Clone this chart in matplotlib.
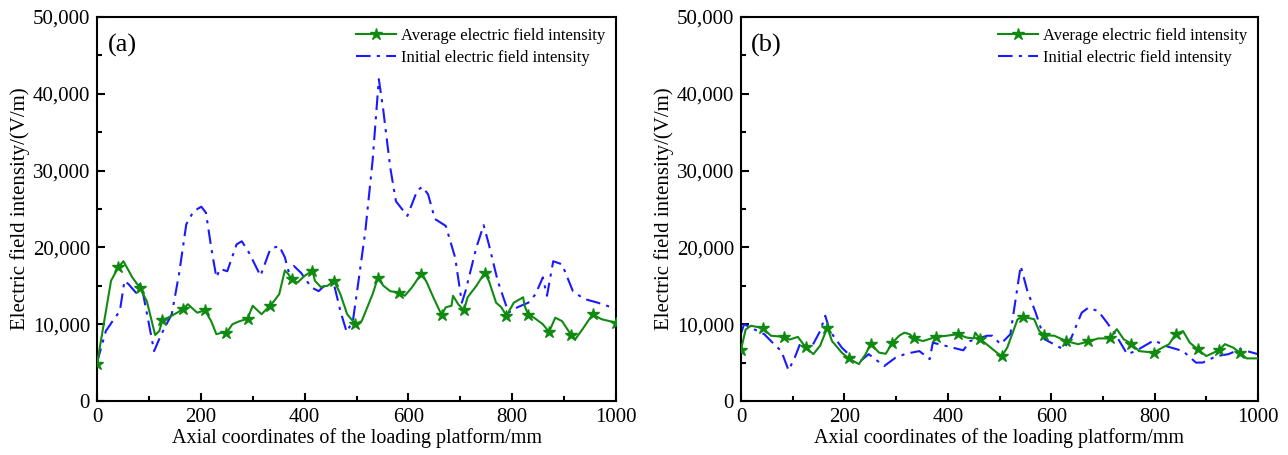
import numpy as np
import matplotlib
matplotlib.use("Agg")
import matplotlib.pyplot as plt
from matplotlib.ticker import MultipleLocator, FuncFormatter

plt.rcParams['font.family'] = ['Liberation Serif', 'DejaVu Serif']
plt.rcParams['mathtext.fontset'] = 'stix'

# donnees (a)
avg_a_x = [0, 27, 41, 51, 68, 83, 96, 112, 120, 126, 144, 166, 175, 193, 208, 220, 230, 241, 249, 261,
           275, 290, 300, 317, 333, 341, 351, 362, 369, 375, 386, 400, 415, 420, 431, 444, 457, 469, 482, 498,
           510, 531, 541, 552, 565, 582, 593, 607, 624, 634, 648, 664, 672, 683, 686, 696, 707, 714, 731, 747,
           755, 769, 779, 789, 803, 821, 824, 831, 842, 859, 871, 883, 896, 914, 921, 935, 955, 972, 1000]
avg_a_y = [4800, 15650, 17400, 18200, 16100, 14700, 13000, 8600, 9100, 10500, 11100, 11950, 12600, 11500, 11800, 10400, 8700, 8900, 8800, 10000,
           10400, 10700, 12400, 11300, 12400, 13000, 13900, 17000, 16500, 15850, 15400, 16300, 16950, 15650, 14850, 15000, 15650, 13900, 11300, 10000,
           10400, 13900, 16000, 15000, 14300, 14100, 13700, 14800, 16500, 15650, 13500, 11200, 12200, 12400, 13700, 12600, 11800, 13500, 15000, 16700,
           15650, 12800, 12200, 11100, 12800, 13500, 12400, 11200, 10850, 10000, 9000, 10850, 10400, 8550, 8000, 9300, 11300, 10650, 10200]
stars_a = [0, 41, 83, 126, 166, 208, 249, 290, 333, 375, 415, 457, 498, 541, 582, 624, 664, 707, 747, 789, 831, 871, 914, 955, 1000]

init_a_x = [0, 17, 30, 44, 53, 61, 75, 82, 89, 99, 110, 124, 144, 158, 172, 186, 201, 210, 220, 230,
            237, 251, 269, 279, 293, 315, 334, 351, 362, 369, 379, 393, 413, 427, 441, 455, 469, 481, 493, 503,
            517, 531, 543, 551, 565, 576, 598, 617, 627, 638, 651, 672, 690, 703, 710, 731, 745, 755, 772, 793,
            810, 831, 845, 859, 867, 879, 896, 917, 938, 965, 1000]
init_a_y = [5000, 9100, 10400, 11700, 15650, 15200, 14100, 15200, 13900, 10400, 6500, 8700, 11300, 16500, 23000, 24700, 25300, 24500, 20000, 16100,
            17200, 16900, 20400, 20800, 19300, 16300, 19800, 20200, 18700, 16900, 17600, 16700, 14800, 14300, 15200, 15650, 11700, 9000, 10400, 15200,
            22100, 31300, 41900, 38200, 30400, 26000, 24100, 27400, 27900, 26900, 23700, 22800, 18700, 12800, 14300, 20000, 22900, 20400, 15650, 11500,
            12200, 12800, 13900, 16100, 13700, 18200, 17800, 14300, 13300, 12800, 12000]

# donnees (b)
avg_b_x = [0, 9, 19, 42, 58, 83, 94, 110, 125, 140, 153, 167, 176, 195, 208, 228, 241, 251, 267, 280,
           293, 306, 316, 326, 335, 352, 377, 398, 419, 437, 450, 453, 463, 483, 504, 515, 535, 546, 567, 577,
           587, 606, 629, 652, 672, 691, 713, 727, 740, 755, 770, 798, 815, 828, 841, 855, 868, 883, 900, 924,
           936, 952, 965, 978, 1000]
avg_b_y = [6700, 9300, 9800, 9500, 8500, 8350, 8000, 8350, 7000, 6100, 7200, 9550, 7800, 6300, 5550, 4800, 6100, 7450, 6300, 6150,
           7600, 8500, 8900, 8700, 8150, 7800, 8350, 8500, 8700, 8250, 8150, 8900, 8050, 6950, 5800, 6950, 10650, 10950, 10650, 9100,
           8550, 8500, 7800, 7400, 7750, 8150, 8150, 9350, 8050, 7450, 6500, 6300, 6950, 7400, 8750, 9100, 7600, 6750, 5850, 6600,
           7400, 6950, 6300, 5550, 5550]
stars_b = [0, 42, 83, 125, 167, 208, 251, 293, 335, 377, 419, 463, 504, 546, 587, 629, 672, 713, 755, 798, 841, 883, 924, 965]

init_b_x = [0, 6, 25, 45, 61, 78, 92, 104, 114, 136, 153, 163, 172, 195, 212, 231, 247, 277, 299, 319,
            345, 365, 371, 430, 443, 476, 486, 502, 521, 541, 554, 570, 587, 623, 639, 659, 672, 691, 708, 724,
            747, 763, 799, 822, 855, 880, 893, 920, 943, 965, 1000]
init_b_y = [8800, 10000, 9350, 8700, 7600, 6500, 4000, 5650, 7400, 6950, 9100, 11100, 9100, 6950, 5850, 5200, 6100, 4550, 5650, 6150,
            6500, 5450, 7600, 6600, 7800, 8500, 8500, 7400, 8700, 17600, 14300, 11500, 8050, 6750, 8250, 11500, 12150, 11700, 10200, 8700,
            6100, 6500, 7900, 7150, 6500, 5000, 5000, 5850, 6100, 6750, 6100]

panels = [
    ("(a)", avg_a_x, avg_a_y, stars_a, init_a_x, init_a_y, [97 / 1288, 54 / 455, 519 / 1288, 384 / 455]),
    ("(b)", avg_b_x, avg_b_y, stars_b, init_b_x, init_b_y, [741 / 1288, 54 / 455, 517 / 1288, 384 / 455]),
]

green = '#118a11'
blue = '#1a1aff'

fig = plt.figure(figsize=(12.88, 4.55), dpi=100)

for tag, gx, gy, stars, bx, by, rect in panels:
    ax = fig.add_axes(rect)
    # etoiles placees sur les points lus
    marks = [gx.index(s) for s in stars]
    ax.plot(gx, gy, color=green, lw=1.5, marker='*', markersize=9, markevery=marks,
            label='Average electric field intensity', zorder=3)
    ax.plot(bx, by, color=blue, lw=1.5, linestyle=(0, (7, 3, 1.5, 3)),
            label='Initial electric field intensity', zorder=2)

    ax.set_xlim(0, 1000)
    ax.set_ylim(0, 50000)
    ax.xaxis.set_major_locator(MultipleLocator(200))
    ax.xaxis.set_minor_locator(MultipleLocator(100))
    ax.yaxis.set_major_locator(MultipleLocator(10000))
    ax.yaxis.set_minor_locator(MultipleLocator(5000))
    ax.yaxis.set_major_formatter(FuncFormatter(lambda v, p: f'{int(v):,}'))
    ax.tick_params(which='both', direction='in', top=False, right=False, labelsize=15, width=1.5, pad=5)
    ax.tick_params(which='major', length=6)
    ax.tick_params(which='minor', length=3.5)
    for s in ax.spines.values():
        s.set_linewidth(1.5)

    ax.set_xlabel('Axial coordinates of the loading platform/mm', fontsize=14.5, labelpad=1)
    ax.set_ylabel('Electric field intensity/(V/m)', fontsize=15, labelpad=2)
    ax.text(0.02, 0.955, tag, transform=ax.transAxes, fontsize=19, va='top', ha='left')

    ax.legend(loc='upper right', frameon=False, fontsize=12, handlelength=2.4,
              handletextpad=0.3, borderaxespad=0.25, labelspacing=0.35)

plt.savefig('out.png', dpi=100)
plt.close(fig)
